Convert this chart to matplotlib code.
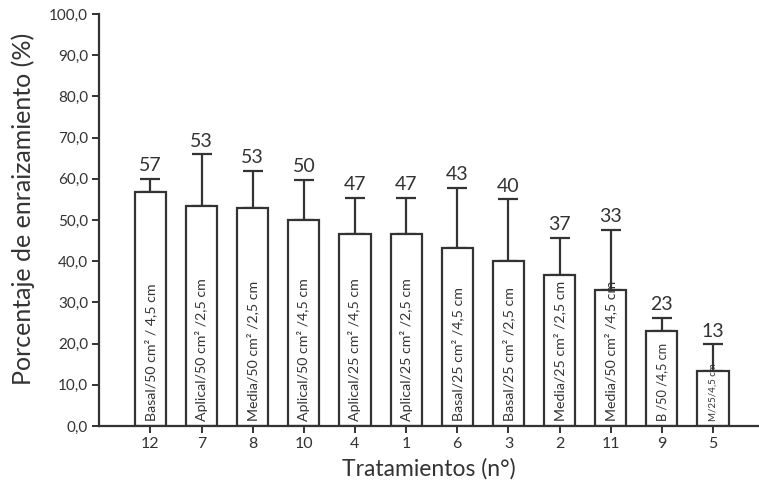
import matplotlib
matplotlib.use("Agg")
import matplotlib.pyplot as plt
import numpy as np

plt.rcParams['font.family'] = ['Lato', 'DejaVu Sans']

treatments = ["12", "7", "8", "10", "4", "1", "6", "3", "2", "11", "9", "5"]
rooting = [56.7, 53.3, 53.0, 50.0, 46.7, 46.7, 43.3, 40.0, 36.7, 33.0, 23.0, 13.3]
error_up = [3.3, 12.6, 9.0, 9.8, 8.7, 8.7, 14.4, 15.0, 8.9, 14.5, 3.2, 6.5]
descriptions = [
    "Basal/50 cm² / 4,5 cm",
    "Aplical/50 cm² /2,5 cm",
    "Media/50 cm² /2,5 cm",
    "Aplical/50 cm² /4,5 cm",
    "Aplical/25 cm² /4,5 cm",
    "Aplical/25 cm² /2,5 cm",
    "Basal/25 cm² /4,5 cm",
    "Basal/25 cm² /2,5 cm",
    "Media/25 cm² /2,5 cm",
    "Media/50 cm² /4,5 cm",
    "B /50 /4,5 cm",
    "M/25/4,5 cm",
]
desc_sizes = [10.2] * 10 + [9.2, 7.0]
yticks = np.arange(0, 101, 10)

ink = "#333333"

fig = plt.figure(figsize=(7.59, 4.86), dpi=100)
ax = fig.add_axes([0.1308, 0.1235, 0.8692, 0.8477])

x = np.arange(len(treatments))
ax.bar(x, rooting, width=0.61, color="white", edgecolor=ink, linewidth=1.6, zorder=2)
ax.errorbar(x, rooting, yerr=[np.zeros(len(x)), error_up], fmt="none",
            ecolor=ink, elinewidth=1.6, capsize=7, capthick=1.6, zorder=1)

for xi, v, e, d, fs in zip(x, rooting, error_up, descriptions, desc_sizes):
    ax.annotate(f"{round(v)}", (xi, v + e), xytext=(0, 3.5), textcoords="offset points",
                ha="center", va="bottom", fontsize=14, color=ink)
    ax.text(xi, 1.2, d, rotation=90, ha="center", va="bottom", fontsize=fs, color=ink)

ax.set_xlim(-1.0, 11.9)
ax.set_ylim(0, 100)
ax.set_xticks(x)
ax.set_xticklabels(treatments, fontsize=11.5, color=ink)
ax.set_yticks(yticks)
ax.set_yticklabels([f"{t:.1f}".replace(".", ",") for t in yticks], fontsize=11, color=ink)
ax.tick_params(axis="both", direction="out", length=5, width=1.4, color=ink, pad=3)

for s in ["top", "right"]:
    ax.spines[s].set_visible(False)
for s in ["left", "bottom"]:
    ax.spines[s].set_linewidth(1.6)
    ax.spines[s].set_color(ink)

ax.set_ylabel("Porcentaje de enraizamiento (%)", fontsize=18, color=ink)
ax.yaxis.set_label_coords(-0.097, 0.527)
ax.set_xlabel("Tratamientos (n°)", fontsize=16.5, color=ink, labelpad=5)

fig.savefig("out.png", dpi=100)
